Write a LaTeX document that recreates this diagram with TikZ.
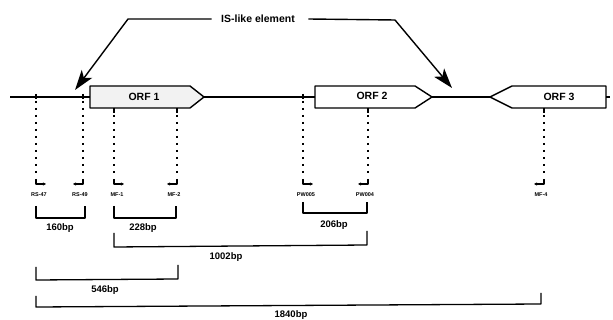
\documentclass[tikz,border=0pt]{standalone}
\usepackage{fontspec}
\setmainfont{Liberation Sans}
\usetikzlibrary{arrows.meta}
\begin{document}
\begin{tikzpicture}[x=1pt,y=-1pt,
  line width=1.3pt, line join=round,
  orf/.style={draw, line width=1.4pt},
  orflabel/.style={font=\bfseries\fontsize{10.5}{12}\selectfont, inner sep=0pt},
  primerline/.style={line width=1.5pt, dash pattern=on 2.5pt off 4.5pt},
  primerlabel/.style={font=\bfseries\fontsize{5.5}{6}\selectfont, inner sep=0pt},
  bplabel/.style={font=\bfseries\fontsize{9.5}{11}\selectfont, inner sep=0pt},
  bracket/.style={line width=1.3pt},
  lead/.style={line width=1.4pt, -{Stealth[length=20pt,width=13pt,inset=5pt]}},
  hook/.style={line width=1.2pt, -{Stealth[length=3pt,width=3pt]}}
]
\useasboundingbox (0,0) rectangle (613,320);

% IS-like element label and leaders
\node[font=\bfseries\fontsize{10.5}{12}\selectfont, inner sep=0pt] (is) at (258,19) {IS-like element};
\coordinate (tipL) at (75,90);
\coordinate (tipR) at (452,88);
\draw[lead] ([xshift=-9pt]is.west) -- (128,19) -- (tipL);
\draw[lead] ([xshift=13pt]is.east) -- (395,20) -- (tipR);

% ORF shapes
\draw[orf, fill=gray!10] (90,86) -- (190,86) -- (204,97) -- (190,108) -- (90,108) -- cycle;
\draw[orf] (315,86) -- (415,86) -- (432,97) -- (415,108) -- (315,108) -- cycle;
\draw[orf] (490,97) -- (512,86) -- (606,86) -- (606,108) -- (512,108) -- cycle;
\node[orflabel] (orf1) at (144,97) {ORF 1};
\node[orflabel] (orf2) at (372,96) {ORF 2};
\node[orflabel] (orf3) at (559,97) {ORF 3};

\coordinate (start) at (10,97);
\coordinate (o1l) at (90,97);
\coordinate (o1t) at (204,97);
\coordinate (o2l) at (315,97);
\coordinate (o2t) at (432,97);
\coordinate (o3t) at (490,97);
\coordinate (o3r) at (606,97);
\coordinate (endr) at (610,97);
\draw[line width=1.4pt] (start) -- (o1l);
\draw[line width=1.4pt] (o1t) -- (o2l);
\draw[line width=1.4pt] (o2t) -- (o3t);
\draw[line width=1.2pt] (o3r) -- (endr);

% primer lines
\foreach \x/\ytop/\dir/\lab/\n in {36/94/1/RS-47/p1, 83/94/-1/RS-49/p2, 114/108/1/MF-1/p3, 177/108/-1/MF-2/p4, 303/94/1/PW005/p5, 368/108/-1/PW004/p6, 544/108/-1/MF-4/p7}{
  \draw[line width=1.2pt] (\x,\ytop) -- (\x,\ytop+5);
  \draw[primerline] (\x,\ytop+7) -- (\x,178);
  \draw[hook] (\x,179) -- (\x,184) -- (\x+\dir*10,184);
  \node[primerlabel] (\n) at (\x+\dir*3,195) {\lab};
}

% brackets
\draw[bracket] (36,206) -- (36,218) -- (85,218) -- (85,206);
\node[bplabel] (b160) at (60,228) {160bp};
\draw[bracket] (114,206) -- (114,218) -- (176,218) -- (176,206);
\node[bplabel] (b228) at (143,228) {228bp};
\draw[bracket] (303,202) -- (303,213) -- (367,213) -- (367,202);
\node[bplabel] (b206) at (334,225) {206bp};
\draw[bracket] (114,233) -- (114,247) -- (367,245) -- (367,231);
\node[bplabel] (b1002) at (226,257) {1002bp};
\draw[bracket] (36,267) -- (36,280) -- (178,279) -- (178,265);
\node[bplabel] (b546) at (105,290) {546bp};
\draw[bracket] (36,296) -- (36,307) -- (541,304) -- (541,293);
\node[bplabel] (b1840) at (291,315) {1840bp};
\end{tikzpicture}
\end{document}
